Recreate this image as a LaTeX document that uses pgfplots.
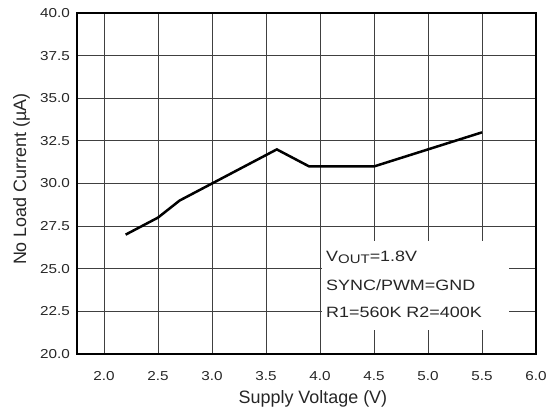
\documentclass[border=0pt]{standalone}
\usepackage{fontspec}
\setmainfont{Liberation Sans}
\newfontfamily\tickfont{Liberation Sans}[FakeStretch=1.18]
\newfontfamily\notefont{Liberation Sans}[FakeStretch=1.2]
\usepackage{pgfplots}
\pgfplotsset{compat=1.18}
\begin{document}
\begin{tikzpicture}
\path[use as bounding box] (-77bp,-59bp) rectangle (475bp,354bp);
\begin{axis}[
  scale only axis,
  width=459bp, height=341bp,
  at={(0,0)}, anchor=south west,
  xmin=1.75, xmax=6.0, ymin=20, ymax=40,
  xtick={2.0,2.5,3.0,3.5,4.0,4.5,5.0,5.5,6.0},
  ytick={20,22.5,25,27.5,30,32.5,35,37.5,40},
  major tick length=0pt,
  grid=major,
  major grid style={black!75, line width=0.8bp},
  axis line style={black, line width=1.8bp},
  /pgf/number format/assume math mode=true,
  /pgf/number format/fixed, /pgf/number format/fixed zerofill, /pgf/number format/precision=1,
  tick label style={font=\tickfont\fontsize{13}{13}\selectfont, text=black!85},
  xticklabel style={anchor=north, yshift=-14bp},
  yticklabel style={anchor=east, xshift=-3.5bp},
  xlabel={Supply Voltage (V)},
  ylabel={No Load Current (\textmu A)},
  label style={font=\fontsize{18}{18}\selectfont, inner sep=0pt, text=black!85},
  xlabel style={at={(axis description cs:0.514,-0.1437)}, anchor=base},
  ylabel style={at={(axis description cs:-0.111,0.513)}, anchor=base},
]
\addplot[black, line width=2.5bp, line join=miter] coordinates {
  (2.2,27.0) (2.5,28.0) (2.7,29.0) (3.0,30.0) (3.6,32.0) (3.9,31.0) (4.5,31.0) (5.5,33.0)
};
\fill[white] (axis cs:4.02,21.4) rectangle (axis cs:5.75,26.63);
\node[anchor=base west, inner sep=0pt, font=\notefont\fontsize{15}{15}\selectfont, text=black!85] at (axis cs:4.056,25.40) {V{\fontsize{12.5}{12.5}\selectfont\raisebox{-1.8bp}{OUT}}=1.8V};
\node[anchor=base west, inner sep=0pt, font=\notefont\fontsize{15}{15}\selectfont, text=black!85] at (axis cs:4.056,23.75) {SYNC/PWM=GND};
\node[anchor=base west, inner sep=0pt, font=\notefont\fontsize{15}{15}\selectfont, text=black!85] at (axis cs:4.056,22.17) {R1=560K R2=400K};
\end{axis}
\end{tikzpicture}
\end{document}
